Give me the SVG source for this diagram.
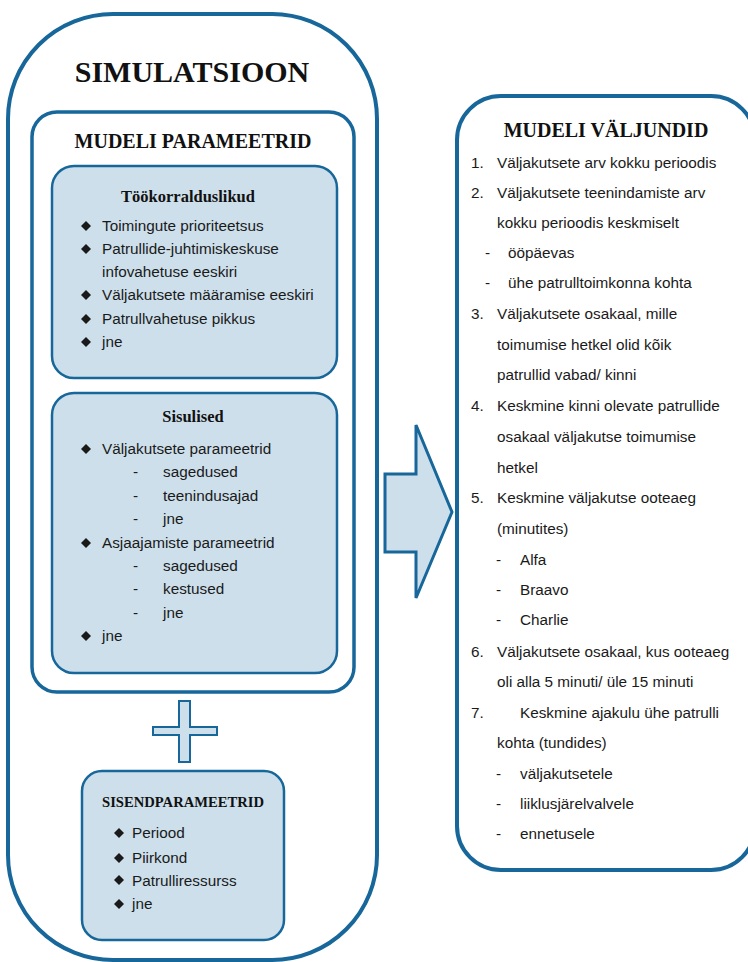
<svg xmlns="http://www.w3.org/2000/svg" width="748" height="962" viewBox="0 0 748 962">
<defs>
<style>
.frame{fill:#ffffff;stroke:#17679a}
.panel{fill:#cddfeb;stroke:#17679a;stroke-width:2.5}
.h{font-family:"Liberation Serif","Times New Roman",serif;font-weight:bold;fill:#111;text-anchor:middle}
.t{font-family:"Liberation Sans",Arial,sans-serif;font-size:15.3px;fill:#1a1a1a}
</style>
<path id="dia" d="M0,-5 L5,0 L0,5 L-5,0 Z" fill="#1a1a1a"/>
</defs>
<rect width="748" height="962" fill="#ffffff"/>

<g id="simulatsioon">
<rect class="frame" x="8" y="14" width="369" height="946" rx="105" ry="105" stroke-width="4"/>
<text class="h" x="192" y="82" font-size="30">SIMULATSIOON</text>
</g>

<g id="mudeli-parameetrid">
<rect class="frame" x="32" y="112" width="322" height="580" rx="25" ry="25" stroke-width="3.5"/>
<text class="h" x="193" y="148" font-size="20">MUDELI PARAMEETRID</text>
</g>

<g id="tookorralduslikud">
<rect class="panel" x="52" y="166" width="285" height="212" rx="22" ry="22"/>
<text class="h" x="188" y="202" font-size="16.5">Töökorralduslikud</text>
<use href="#dia" x="86" y="226"/>
<use href="#dia" x="86" y="249"/>
<use href="#dia" x="86" y="295"/>
<use href="#dia" x="86" y="319"/>
<use href="#dia" x="86" y="342"/>
<text class="t" x="102" y="231">Toimingute prioriteetsus</text>
<text class="t" x="102" y="254">Patrullide-juhtimiskeskuse</text>
<text class="t" x="102" y="277">infovahetuse eeskiri</text>
<text class="t" x="102" y="300">Väljakutsete määramise eeskiri</text>
<text class="t" x="102" y="324">Patrullvahetuse pikkus</text>
<text class="t" x="102" y="347">jne</text>
</g>

<g id="sisulised">
<rect class="panel" x="52" y="393" width="285" height="280" rx="22" ry="22"/>
<text class="h" x="193" y="422" font-size="16.5">Sisulised</text>
<use href="#dia" x="86" y="449"/>
<use href="#dia" x="86" y="543"/>
<use href="#dia" x="86" y="636"/>
<text class="t" x="102" y="454">Väljakutsete parameetrid</text>
<text class="t" x="133" y="477">-</text><text class="t" x="163" y="477">sagedused</text>
<text class="t" x="133" y="501">-</text><text class="t" x="163" y="501">teenindusajad</text>
<text class="t" x="133" y="524">-</text><text class="t" x="163" y="524">jne</text>
<text class="t" x="102" y="548">Asjaajamiste parameetrid</text>
<text class="t" x="133" y="571">-</text><text class="t" x="163" y="571">sagedused</text>
<text class="t" x="133" y="594">-</text><text class="t" x="163" y="594">kestused</text>
<text class="t" x="133" y="618">-</text><text class="t" x="163" y="618">jne</text>
<text class="t" x="102" y="641">jne</text>
</g>

<g id="pluss">
<path d="M179,701 H190 V727 H217 V735 H190 V762 H179 V735 H153 V727 H179 Z" fill="#cddfeb" stroke="#17679a" stroke-width="2"/>
</g>

<g id="sisendparameetrid">
<rect class="panel" x="82" y="771" width="202" height="169" rx="20" ry="20" stroke-width="3"/>
<text class="h" x="183" y="807" font-size="14.6">SISENDPARAMEETRID</text>
<use href="#dia" x="119" y="833"/>
<use href="#dia" x="119" y="858"/>
<use href="#dia" x="119" y="880"/>
<use href="#dia" x="119" y="904"/>
<text class="t" x="132" y="838">Periood</text>
<text class="t" x="132" y="863">Piirkond</text>
<text class="t" x="132" y="886">Patrulliressurss</text>
<text class="t" x="132" y="909">jne</text>
</g>

<g id="connectors">
<path d="M385,474 H416 V425 L452,512 L416,598 V552 H385 Z" fill="#cddfeb" stroke="#17679a" stroke-width="3"/>
</g>

<g id="mudeli-valjundid">
<rect class="frame" x="457" y="96" width="298" height="774" rx="44" ry="44" stroke-width="4"/>
<text class="h" x="606" y="137" font-size="20">MUDELI VÄLJUNDID</text>
<text class="t" x="471" y="168">1.</text><text class="t" x="497" y="168">Väljakutsete arv kokku perioodis</text>
<text class="t" x="471" y="198">2.</text><text class="t" x="497" y="198">Väljakutsete teenindamiste arv</text>
<text class="t" x="497" y="228">kokku perioodis keskmiselt</text>
<text class="t" x="485" y="258">-</text><text class="t" x="508" y="258">ööpäevas</text>
<text class="t" x="485" y="288">-</text><text class="t" x="508" y="288">ühe patrulltoimkonna kohta</text>
<text class="t" x="471" y="319">3.</text><text class="t" x="497" y="319">Väljakutsete osakaal, mille</text>
<text class="t" x="497" y="350">toimumise hetkel olid kõik</text>
<text class="t" x="497" y="380">patrullid vabad/ kinni</text>
<text class="t" x="471" y="411">4.</text><text class="t" x="497" y="411">Keskmine kinni olevate patrullide</text>
<text class="t" x="497" y="442">osakaal väljakutse toimumise</text>
<text class="t" x="497" y="473">hetkel</text>
<text class="t" x="471" y="503">5.</text><text class="t" x="497" y="503">Keskmine väljakutse ooteaeg</text>
<text class="t" x="497" y="534">(minutites)</text>
<text class="t" x="496" y="565">-</text><text class="t" x="520" y="565">Alfa</text>
<text class="t" x="496" y="595">-</text><text class="t" x="520" y="595">Braavo</text>
<text class="t" x="496" y="625">-</text><text class="t" x="520" y="625">Charlie</text>
<text class="t" x="471" y="657">6.</text><text class="t" x="497" y="657">Väljakutsete osakaal, kus ooteaeg</text>
<text class="t" x="497" y="687">oli alla 5 minuti/ üle 15 minuti</text>
<text class="t" x="471" y="718">7.</text><text class="t" x="520" y="718">Keskmine ajakulu ühe patrulli</text>
<text class="t" x="497" y="748">kohta (tundides)</text>
<text class="t" x="496" y="779">-</text><text class="t" x="520" y="779">väljakutsetele</text>
<text class="t" x="496" y="809">-</text><text class="t" x="520" y="809">liiklusjärelvalvele</text>
<text class="t" x="496" y="839">-</text><text class="t" x="520" y="839">ennetusele</text>
</g>
</svg>
